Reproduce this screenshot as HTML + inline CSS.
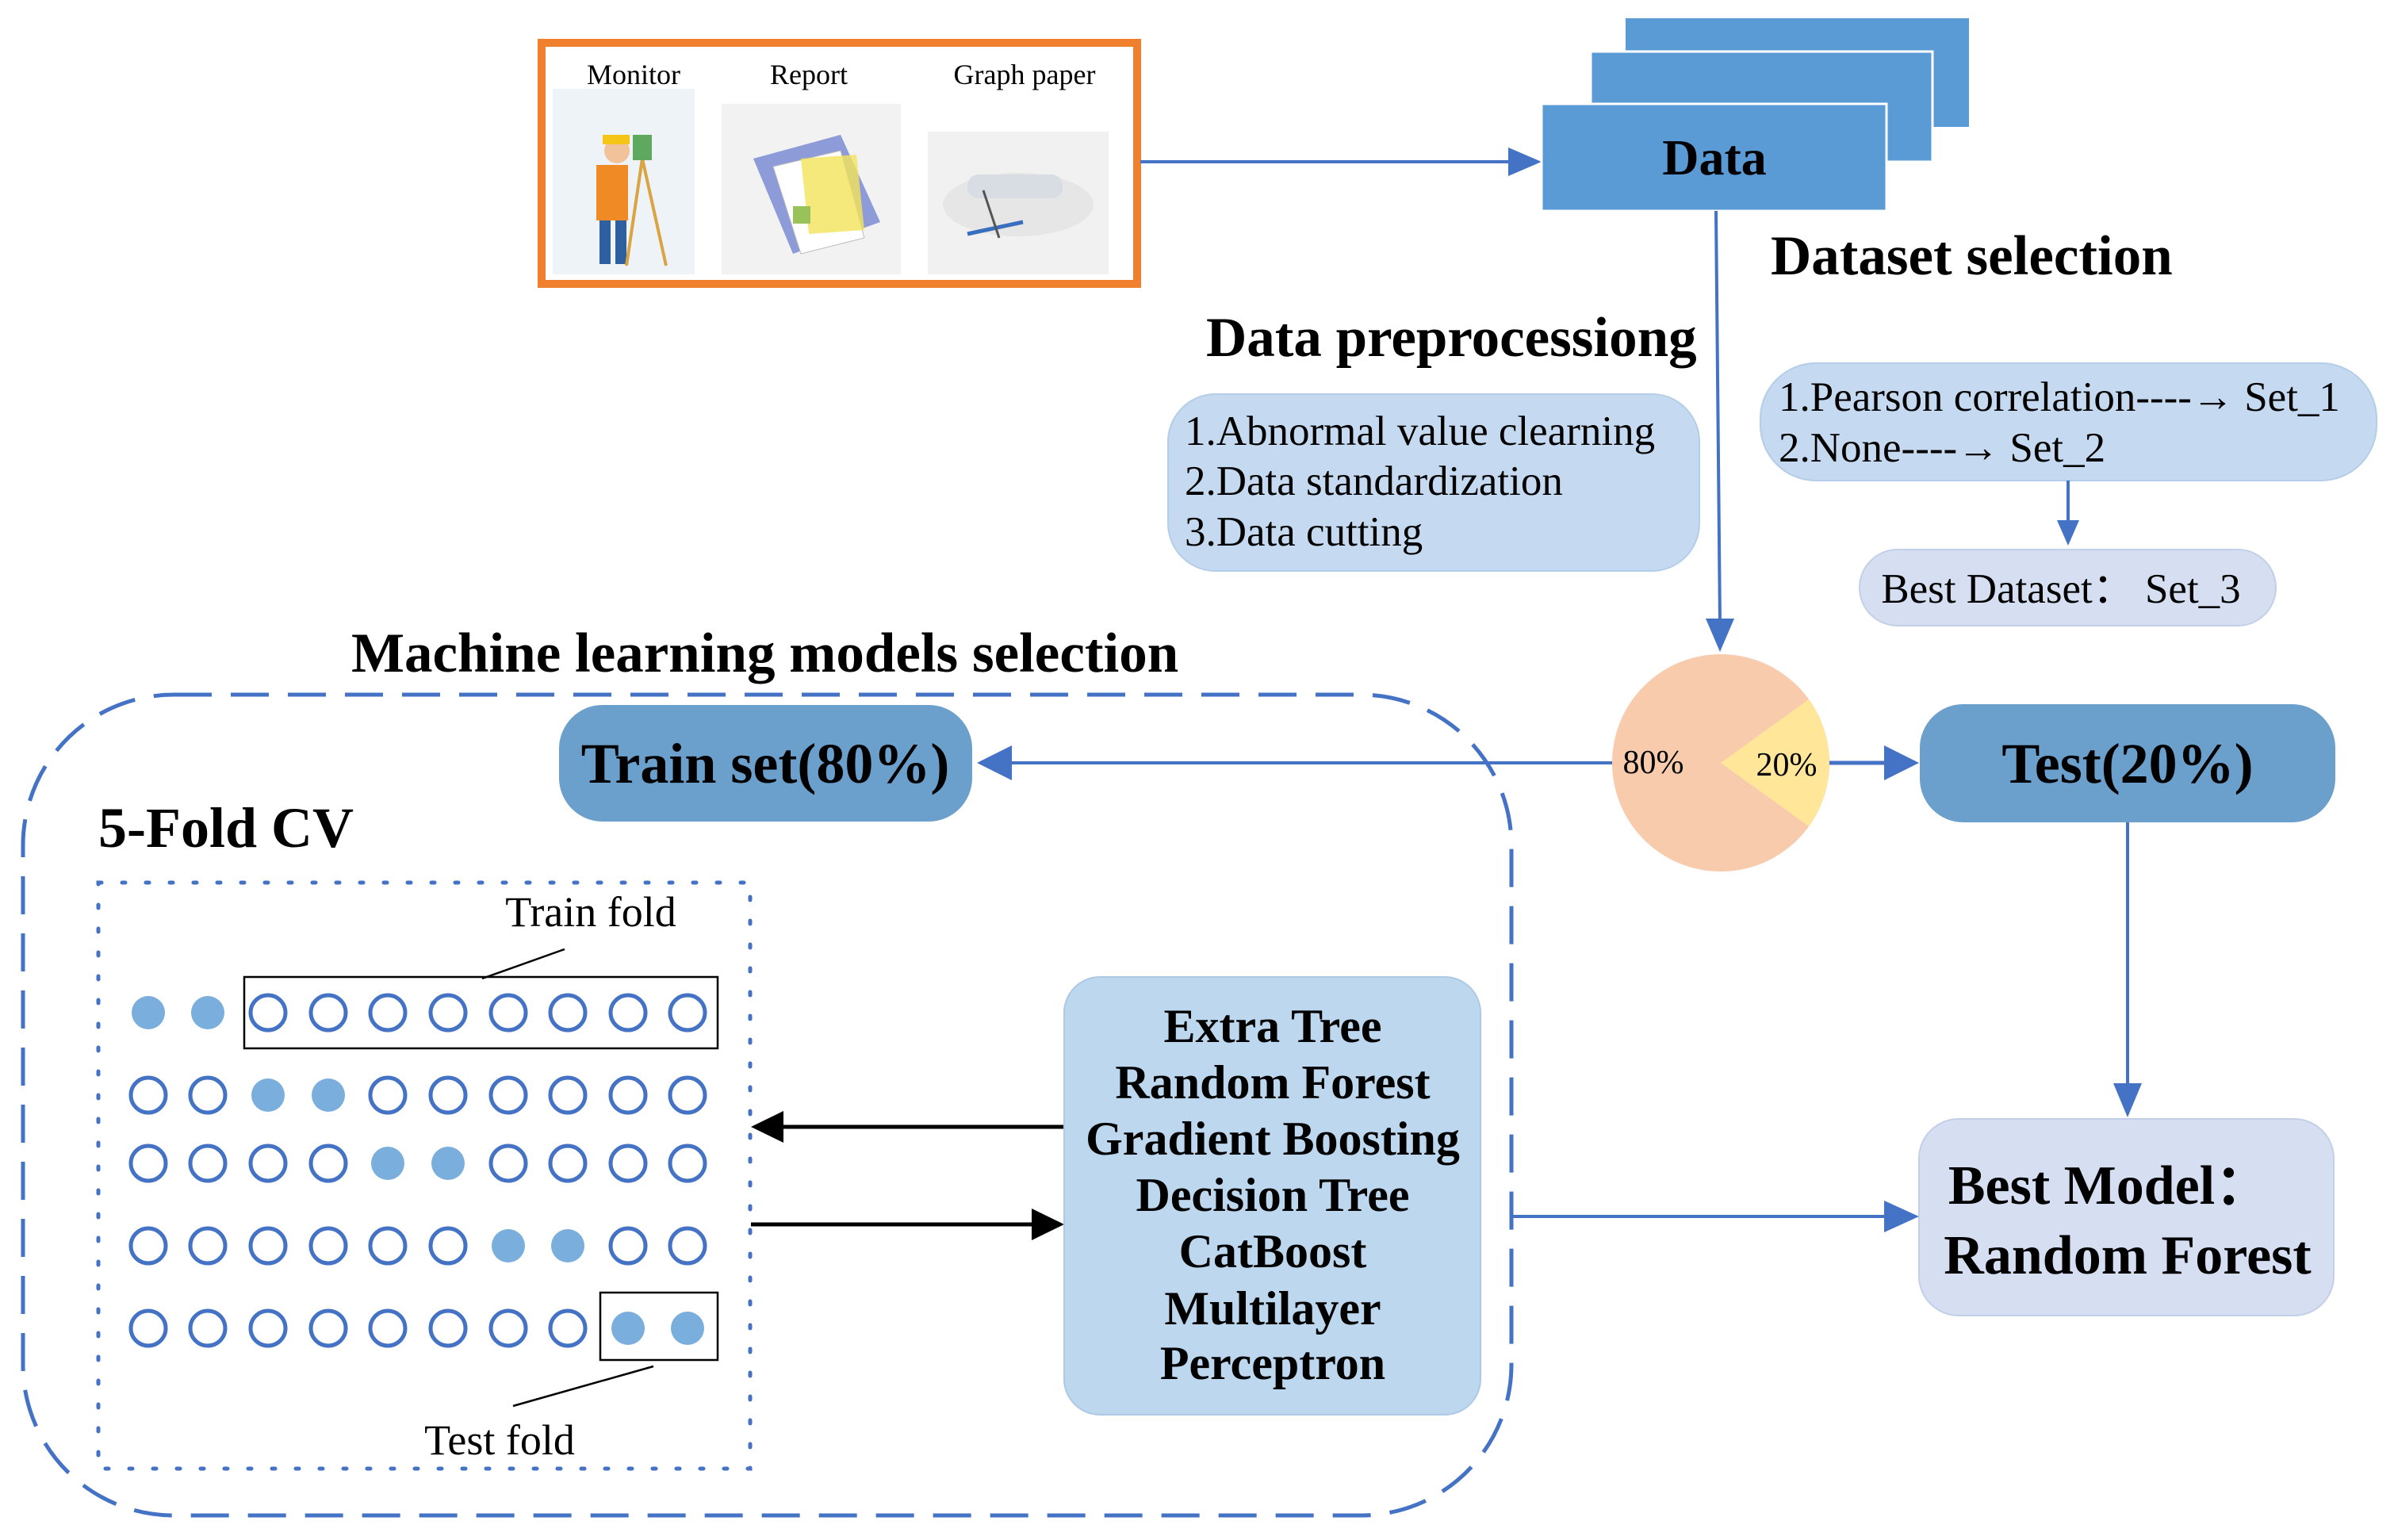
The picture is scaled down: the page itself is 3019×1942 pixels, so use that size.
<!DOCTYPE html>
<html><head><meta charset="utf-8"><style>
html,body{margin:0;padding:0;background:#fff;}
svg{display:block;}
text{font-family:"Liberation Serif",serif;}
.b{font-weight:bold;}
</style></head><body>
<svg width="3019" height="1942" viewBox="0 0 3019 1942" xmlns="http://www.w3.org/2000/svg">

<!-- orange source box -->
<rect x="683" y="54" width="751" height="304" fill="#fff" stroke="#f07f2e" stroke-width="10"/>
<text x="799" y="106" font-size="36" text-anchor="middle">Monitor</text>
<text x="1020" y="106" font-size="36" text-anchor="middle">Report</text>
<text x="1292" y="106" font-size="36" text-anchor="middle">Graph paper</text>
<rect x="697" y="112" width="179" height="234" fill="#eef3f8"/>
<rect x="910" y="131" width="226" height="215" fill="#f2f2f2"/>
<rect x="1170" y="166" width="228" height="180" fill="#f1f1f1"/>
<!-- monitor figure -->
<circle cx="778" cy="190" r="16" fill="#f2c29a"/>
<rect x="760" y="170" width="34" height="12" fill="#f5c518"/>
<rect x="752" y="208" width="40" height="70" fill="#f08a24"/>
<rect x="756" y="278" width="14" height="55" fill="#2e5f9e"/>
<rect x="776" y="278" width="14" height="55" fill="#2e5f9e"/>
<line x1="810" y1="200" x2="790" y2="335" stroke="#d9a441" stroke-width="4"/>
<line x1="810" y1="200" x2="840" y2="335" stroke="#d9a441" stroke-width="4"/>
<rect x="798" y="170" width="24" height="32" fill="#5fa85f"/>
<!-- report -->
<polygon points="950,200 1060,170 1110,280 1000,320" fill="#8d9bd8"/>
<polygon points="975,210 1060,190 1090,300 1010,320" fill="#fff" stroke="#bbb"/>
<polygon points="1010,200 1080,195 1090,290 1020,295" fill="#f4e35a" opacity="0.8"/>
<rect x="1000" y="260" width="22" height="22" fill="#9ac25a"/>
<!-- graph paper -->
<ellipse cx="1284" cy="258" rx="95" ry="40" fill="#e6e6e6"/>
<rect x="1220" y="220" width="120" height="30" rx="14" fill="#d8dde4"/>
<line x1="1220" y1="295" x2="1290" y2="280" stroke="#3a6fbf" stroke-width="5"/>
<line x1="1240" y1="240" x2="1260" y2="300" stroke="#555" stroke-width="3"/>

<!-- arrow to Data -->
<line x1="1438" y1="204" x2="1910" y2="204" stroke="#4472c4" stroke-width="4"/>
<polygon points="1944,204 1902,186 1902,222" fill="#4472c4"/>

<!-- Data stack -->
<rect x="2050" y="23" width="433" height="137" fill="#5b9bd5"/>
<rect x="2006" y="65" width="431" height="139" fill="#5b9bd5" stroke="#fff" stroke-width="3"/>
<rect x="1944" y="131" width="435" height="135" fill="#5b9bd5" stroke="#fff" stroke-width="3"/>
<text x="2162" y="220" font-size="64" class="b" text-anchor="middle">Data</text>

<text x="2233" y="346" font-size="71" class="b">Dataset selection</text>
<text x="1521" y="449" font-size="71" class="b">Data preprocessiong</text>

<!-- vertical data -> pie -->
<line x1="2164" y1="266" x2="2169" y2="786" stroke="#4472c4" stroke-width="4"/>
<polygon points="2169,822 2151,780 2187,780" fill="#4472c4"/>

<!-- preprocessing box -->
<rect x="1473" y="497" width="670" height="223" rx="60" fill="#c5daf0" stroke="#b4cde8" stroke-width="2"/>
<text x="1494" y="561" font-size="53">1.Abnormal value clearning</text>
<text x="1494" y="624" font-size="53">2.Data standardization</text>
<text x="1494" y="688" font-size="53">3.Data cutting</text>

<!-- dataset selection box -->
<rect x="2220" y="458" width="777" height="148" rx="70" fill="#c5daf0" stroke="#b4cde8" stroke-width="2"/>
<text x="2243" y="518" font-size="53">1.Pearson correlation----→ Set_1</text>
<text x="2243" y="582" font-size="53">2.None----→ Set_2</text>
<line x1="2608" y1="606" x2="2608" y2="660" stroke="#4472c4" stroke-width="4"/>
<polygon points="2608,688 2594,656 2622,656" fill="#4472c4"/>
<rect x="2345" y="693" width="525" height="96" rx="48" fill="#d6dff2" stroke="#c3cfe9" stroke-width="2"/>
<text x="2599" y="760" font-size="53" text-anchor="middle">Best Dataset：  Set_3</text>

<text x="443" y="847" font-size="71" class="b">Machine learning models selection</text>

<!-- pie -->
<circle cx="2170" cy="962" r="137" fill="#f8cbad"/>
<path d="M2170,962 L2281,882 A137,137 0 0,1 2281,1042 Z" fill="#ffe699"/>
<text x="2085" y="975" font-size="42" text-anchor="middle">80%</text>
<text x="2253" y="978" font-size="42" text-anchor="middle">20%</text>

<!-- pie -> train -->
<line x1="2033" y1="962" x2="1270" y2="962" stroke="#4472c4" stroke-width="4"/>
<polygon points="1232,962 1276,940 1276,984" fill="#4472c4"/>
<!-- pie -> test -->
<line x1="2307" y1="962" x2="2380" y2="962" stroke="#4472c4" stroke-width="5"/>
<polygon points="2420,962 2376,940 2376,984" fill="#4472c4"/>

<!-- Train / Test boxes -->
<rect x="705" y="889" width="521" height="147" rx="55" fill="#6b9fcc"/>
<text x="965" y="987" font-size="72" class="b" text-anchor="middle">Train set(80%)</text>
<rect x="2421" y="888" width="524" height="149" rx="55" fill="#6b9fcc"/>
<text x="2683" y="987" font-size="72" class="b" text-anchor="middle">Test(20%)</text>

<line x1="2683" y1="1037" x2="2683" y2="1370" stroke="#4472c4" stroke-width="4"/>
<polygon points="2683,1409 2665,1366 2701,1366" fill="#4472c4"/>

<!-- Best model -->
<rect x="2420" y="1411" width="523" height="248" rx="50" fill="#d6dff2" stroke="#c3cfe9" stroke-width="2"/>
<text x="2660" y="1518" font-size="70" class="b" text-anchor="middle">Best Model：</text>
<text x="2683" y="1606" font-size="70" class="b" text-anchor="middle">Random Forest</text>

<!-- big dashed region -->
<rect x="29" y="876" width="1877" height="1035" rx="190" fill="none" stroke="#4472c4" stroke-width="5" stroke-dasharray="48,24"/>
<text x="124" y="1068" font-size="72" class="b">5-Fold CV</text>

<!-- dotted box -->
<rect x="124" y="1113" width="822" height="739" fill="none" stroke="#4472c4" stroke-width="5" stroke-dasharray="4,26" stroke-linecap="round"/>
<text x="745" y="1168" font-size="54" text-anchor="middle">Train fold</text>
<line x1="712" y1="1197" x2="608" y2="1234" stroke="#000" stroke-width="2.5"/>
<rect x="308" y="1232" width="597" height="90" fill="none" stroke="#000" stroke-width="2.5"/>
<rect x="757" y="1630" width="148" height="85" fill="none" stroke="#000" stroke-width="2.5"/>
<line x1="824" y1="1723" x2="647" y2="1773" stroke="#000" stroke-width="2.5"/>
<text x="630" y="1834" font-size="54" text-anchor="middle">Test fold</text>

<g stroke="#4472c4" stroke-width="5" fill="none">
<!-- row1 -->
<circle cx="187" cy="1277" r="21" fill="#7aaedc" stroke="none"/><circle cx="262" cy="1277" r="21" fill="#7aaedc" stroke="none"/>
<circle cx="338" cy="1277" r="22"/><circle cx="414" cy="1277" r="22"/><circle cx="489" cy="1277" r="22"/><circle cx="565" cy="1277" r="22"/><circle cx="641" cy="1277" r="22"/><circle cx="716" cy="1277" r="22"/><circle cx="792" cy="1277" r="22"/><circle cx="867" cy="1277" r="22"/>
<!-- row2 -->
<circle cx="187" cy="1381" r="22"/><circle cx="262" cy="1381" r="22"/>
<circle cx="338" cy="1381" r="21" fill="#7aaedc" stroke="none"/><circle cx="414" cy="1381" r="21" fill="#7aaedc" stroke="none"/>
<circle cx="489" cy="1381" r="22"/><circle cx="565" cy="1381" r="22"/><circle cx="641" cy="1381" r="22"/><circle cx="716" cy="1381" r="22"/><circle cx="792" cy="1381" r="22"/><circle cx="867" cy="1381" r="22"/>
<!-- row3 -->
<circle cx="187" cy="1467" r="22"/><circle cx="262" cy="1467" r="22"/><circle cx="338" cy="1467" r="22"/><circle cx="414" cy="1467" r="22"/>
<circle cx="489" cy="1467" r="21" fill="#7aaedc" stroke="none"/><circle cx="565" cy="1467" r="21" fill="#7aaedc" stroke="none"/>
<circle cx="641" cy="1467" r="22"/><circle cx="716" cy="1467" r="22"/><circle cx="792" cy="1467" r="22"/><circle cx="867" cy="1467" r="22"/>
<!-- row4 -->
<circle cx="187" cy="1571" r="22"/><circle cx="262" cy="1571" r="22"/><circle cx="338" cy="1571" r="22"/><circle cx="414" cy="1571" r="22"/><circle cx="489" cy="1571" r="22"/><circle cx="565" cy="1571" r="22"/>
<circle cx="641" cy="1571" r="21" fill="#7aaedc" stroke="none"/><circle cx="716" cy="1571" r="21" fill="#7aaedc" stroke="none"/>
<circle cx="792" cy="1571" r="22"/><circle cx="867" cy="1571" r="22"/>
<!-- row5 -->
<circle cx="187" cy="1675" r="22"/><circle cx="262" cy="1675" r="22"/><circle cx="338" cy="1675" r="22"/><circle cx="414" cy="1675" r="22"/><circle cx="489" cy="1675" r="22"/><circle cx="565" cy="1675" r="22"/><circle cx="641" cy="1675" r="22"/><circle cx="716" cy="1675" r="22"/>
<circle cx="792" cy="1675" r="21" fill="#7aaedc" stroke="none"/><circle cx="867" cy="1675" r="21" fill="#7aaedc" stroke="none"/>
</g>

<!-- black arrows -->
<line x1="1342" y1="1421" x2="980" y2="1421" stroke="#000" stroke-width="5"/>
<polygon points="947,1421 988,1401 988,1441" fill="#000"/>
<line x1="947" y1="1544" x2="1305" y2="1544" stroke="#000" stroke-width="5"/>
<polygon points="1342,1544 1301,1524 1301,1564" fill="#000"/>

<!-- models box -->
<rect x="1342" y="1232" width="525" height="552" rx="45" fill="#bdd7ee" stroke="#adc9e6" stroke-width="2"/>
<g font-size="60" class="b" text-anchor="middle">
<text x="1605" y="1314">Extra Tree</text>
<text x="1605" y="1385">Random Forest</text>
<text x="1605" y="1456">Gradient Boosting</text>
<text x="1605" y="1527">Decision Tree</text>
<text x="1605" y="1598">CatBoost</text>
<text x="1605" y="1670">Multilayer</text>
<text x="1605" y="1739">Perceptron</text>
</g>

<!-- models -> best model -->
<line x1="1906" y1="1534" x2="2380" y2="1534" stroke="#4472c4" stroke-width="4"/>
<polygon points="2420,1534 2376,1514 2376,1554" fill="#4472c4"/>
</svg>
</body></html>
